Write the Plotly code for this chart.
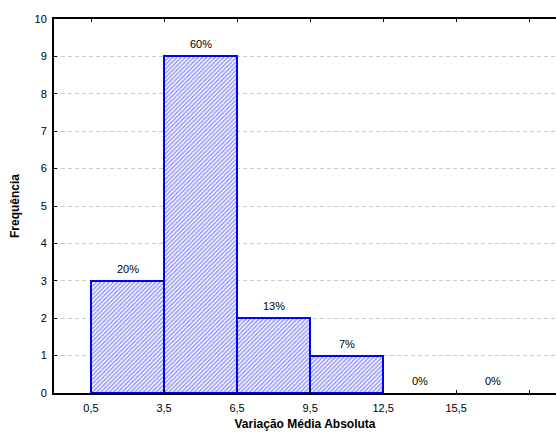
import plotly.graph_objects as go

# Histogram of absolute mean variation: bins of width 3 starting at 0.5
bin_starts = [0.5, 3.5, 6.5, 9.5, 12.5, 15.5]
bin_width = 3
counts = [3, 9, 2, 1, 0, 0]
x_tick_vals = [0.5, 3.5, 6.5, 9.5, 12.5, 15.5, 18.5]
x_tick_text = ["0,5", "3,5", "6,5", "9,5", "12,5", "15,5", ""]
y_tick_vals = list(range(0, 11))

total = sum(counts)
centers = [s + bin_width / 2 for s in bin_starts]
pct_labels = [f"{round(c / total * 100)}%" for c in counts]
# empty bins get no outline so the axis line stays black
outline_widths = [2 if c > 0 else 0 for c in counts]

font_family = "Liberation Sans, Arial, sans-serif"

fig = go.Figure()
fig.add_trace(go.Bar(
    x=centers,
    y=counts,
    width=[bin_width] * len(counts),
    marker=dict(
        color="white",
        line=dict(color="#0000ff", width=outline_widths),
        pattern=dict(shape="/", fgcolor="#3a3aff", bgcolor="white",
                     size=3, solidity=0.55),
    ),
    showlegend=False,
    hoverinfo="skip",
))

# Percentage of the total above each bin
for xc, c, lbl in zip(centers, counts, pct_labels):
    fig.add_annotation(
        x=xc, y=c, text=lbl, showarrow=False,
        yanchor="bottom", yshift=4,
        font=dict(family=font_family, size=11, color="black"),
    )

fig.update_layout(
    width=556,
    height=432,
    margin=dict(l=54, r=0, t=19, b=39),
    plot_bgcolor="white",
    paper_bgcolor="white",
    bargap=0,
    font=dict(family=font_family, size=11, color="black"),
)
fig.update_xaxes(
    range=[-1.02, 19.6],
    tickvals=x_tick_vals,
    ticktext=x_tick_text,
    ticks="inside",
    ticklen=3,
    tickwidth=1,
    tickcolor="black",
    showline=True,
    linecolor="black",
    linewidth=2,
    mirror="allticks",
    showgrid=False,
    zeroline=False,
    ticklabelstandoff=4,
    title=dict(text="<b>Variação Média Absoluta</b>", standoff=6,
               font=dict(family=font_family, size=12)),
    tickfont=dict(family=font_family, size=11),
)
fig.update_yaxes(
    range=[0, 10],
    tickvals=y_tick_vals,
    ticks="inside",
    ticklen=3,
    tickwidth=1,
    tickcolor="black",
    showline=True,
    linecolor="black",
    linewidth=2,
    showgrid=True,
    gridcolor="#cccccc",
    griddash="4px,3px",
    gridwidth=1,
    zeroline=False,
    ticklabelstandoff=3,
    title=dict(text="<b>Frequência</b>", standoff=12,
               font=dict(family=font_family, size=12)),
    tickfont=dict(family=font_family, size=11),
)

fig.write_html("out.html")
